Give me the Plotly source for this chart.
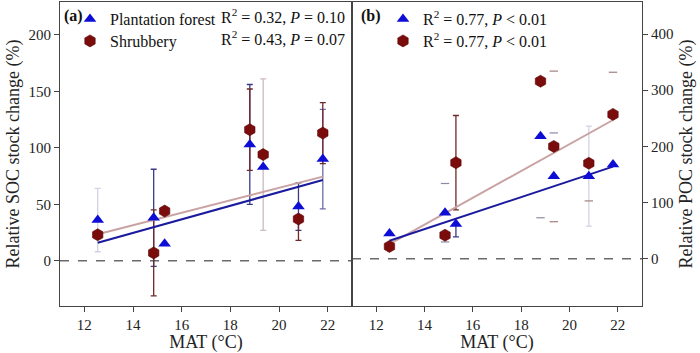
import numpy as np
import plotly.graph_objects as go

# ---------------- data ----------------
mat = [12.55, 14.85, 15.3, 18.8, 19.35, 20.8, 21.8]

# (a) SOC stock change (%)
soc_plant = [36, 38, 15, 103, 83, 48, 90]
soc_plant_up = [28, 43, 0, 53, 0, 21, 44]
soc_plant_dn = [28, 43, 0, 53, 0, 21, 44]
soc_shrub = [23, 7, 44, 116, 94, 37, 113]
soc_shrub_up = [0, 38, 0, 36, 67, 0, 27]
soc_shrub_dn = [0, 38, 0, 36, 67, 19, 27]

# (b) POC stock change (%)
poc_plant = [45, 82, 62, 218, 147, 147, 168]
poc_plant_up = [0, 52, 0, 0, 77, 89, 0]
poc_plant_dn = [0, 52, 23, 145, 0, 89, 0]
poc_shrub = [22, 42, 171, 316, 200, 170, 257]
poc_shrub_up = [0, 0, 84, 0, 134, 0, 75]
poc_shrub_dn = [0, 0, 84, 0, 134, 67, 0]

# fitted regression lines (end points)
fit_x = [12.55, 21.8]
soc_plant_fit = [16, 71.5]
soc_shrub_fit = [23.5, 74.5]
poc_plant_fit = [32, 164]
poc_shrub_fit = [26, 247]

x_ticks = [12, 14, 16, 18, 20, 22]
soc_ticks = [0, 50, 100, 150, 200]
poc_ticks = [0, 100, 200, 300, 400]

# error-bar style class per point: 'd' dark, 'm' medium, 'l' light, 'c' caps only, '-' none
soc_plant_sty = ['l', 'd', '-', 'd', '-', 'd', 'm']
soc_shrub_sty = ['-', 'd', '-', 'd', 'l', 'd', 'd']
poc_plant_sty = ['-', 'c', 'd', 'c', 'c', 'l', '-']
poc_shrub_sty = ['-', '-', 'd', '-', 'c', 'c', 'c']

BLUE = '#0d0dd6'
RED = '#7a0c0c'
FONT = 'Liberation Serif'
TXT = '#111111'

err_colors = {
    'blue': {'d': '#3b3b85', 'm': '#6e6ea8', 'l': '#d2d2e6', 'c': 'rgba(0,0,0,0)'},
    'red': {'d': '#6e2a2a', 'm': '#8a5050', 'l': '#cdbcbc', 'c': 'rgba(0,0,0,0)'},
}
cap_colors = {'blue': '#8a8aa8', 'red': '#a08080'}

fig = go.Figure()


def add_errors(x, y, up, dn, sty, key, xa, ya):
    for cls in ['l', 'c', 'm', 'd']:
        xs, ys, us, ds = [], [], [], []
        for xi, yi, ui, di, si in zip(x, y, up, dn, sty):
            if si == cls:
                xs.append(xi); ys.append(yi); us.append(ui); ds.append(di)
        if not xs:
            continue
        if cls == 'c':
            cx, cy = [], []
            for xi, yi, ui, di in zip(xs, ys, us, ds):
                if ui:
                    cx.append(xi); cy.append(yi + ui)
                if di:
                    cx.append(xi); cy.append(yi - di)
            fig.add_trace(go.Scatter(
                x=cx, y=cy, mode='markers',
                marker=dict(symbol='line-ew', size=6,
                            line=dict(color=cap_colors[key], width=1.2)),
                showlegend=False, hoverinfo='skip', xaxis=xa, yaxis=ya))
            continue
        fig.add_trace(go.Scatter(
            x=xs, y=ys, mode='markers', marker=dict(size=1, opacity=0),
            error_y=dict(type='data', symmetric=False, array=us, arrayminus=ds,
                         visible=True, color=err_colors[key][cls],
                         thickness=1.3, width=3),
            showlegend=False, hoverinfo='skip', xaxis=xa, yaxis=ya))


# error bars
add_errors(mat, soc_plant, soc_plant_up, soc_plant_dn, soc_plant_sty, 'blue', 'x', 'y')
add_errors(mat, soc_shrub, soc_shrub_up, soc_shrub_dn, soc_shrub_sty, 'red', 'x', 'y')
add_errors(mat, poc_plant, poc_plant_up, poc_plant_dn, poc_plant_sty, 'blue', 'x2', 'y2')
add_errors(mat, poc_shrub, poc_shrub_up, poc_shrub_dn, poc_shrub_sty, 'red', 'x2', 'y2')

# regression lines
for fy, col, xa, ya in [(soc_shrub_fit, '#c9a3a3', 'x', 'y'),
                        (soc_plant_fit, '#1a1a9e', 'x', 'y'),
                        (poc_shrub_fit, '#c9a3a3', 'x2', 'y2'),
                        (poc_plant_fit, '#1a1a9e', 'x2', 'y2')]:
    fig.add_trace(go.Scatter(x=fit_x, y=fy, mode='lines',
                             line=dict(color=col, width=2),
                             showlegend=False, hoverinfo='skip',
                             xaxis=xa, yaxis=ya))

tri = dict(symbol='triangle-up', size=11, color=BLUE, line=dict(width=0))
hexm = dict(symbol='hexagon', size=12, color=RED, line=dict(color='#5a0505', width=0.6))

fig.add_trace(go.Scatter(x=mat, y=soc_shrub, mode='markers', marker=hexm,
                         name='Shrubbery', legend='legend3'))
fig.add_trace(go.Scatter(x=mat, y=soc_plant, mode='markers', marker=tri,
                         name='Plantation forest', legend='legend'))
fig.add_trace(go.Scatter(x=mat, y=poc_shrub, mode='markers', marker=hexm,
                         name='R<sup>2</sup> = 0.77, <i>P</i> < 0.01',
                         xaxis='x2', yaxis='y2', legend='legend4'))
fig.add_trace(go.Scatter(x=mat, y=poc_plant, mode='markers', marker=tri,
                         name='R<sup>2</sup> = 0.77, <i>P</i> < 0.01',
                         xaxis='x2', yaxis='y2', legend='legend2'))

# zero lines
for xr, yr in [('x domain', 'y'), ('x2 domain', 'y2')]:
    fig.add_shape(type='line', xref=xr, yref=yr, x0=0, x1=1, y0=0, y1=0,
                  line=dict(color='#6a6a6a', width=1.5, dash='dash'), layer='below')

axis_common = dict(showline=True, linecolor='#444444', linewidth=1, mirror=True,
                   ticks='outside', ticklen=5, tickcolor='#444444',
                   showgrid=False, zeroline=False,
                   tickfont=dict(family=FONT, size=15, color='#222222'))
split = 292 / 582
PH = 304.0


def leg(xpx, row_top):
    return dict(x=xpx / 582, y=1 - row_top / PH, xanchor='left', yanchor='top',
                bgcolor='rgba(0,0,0,0)', font=dict(family=FONT, size=16, color=TXT))


fig.update_layout(
    width=700, height=353,
    margin=dict(l=60, r=58, t=2, b=47),
    paper_bgcolor='white', plot_bgcolor='white',
    font=dict(family=FONT, color='#222222'),
    xaxis=dict(domain=[0, split], range=[11, 23], tickvals=x_ticks,
               title=dict(text='MAT (°C)', font=dict(family=FONT, size=18), standoff=2),
               **axis_common),
    yaxis=dict(range=[-40, 229], tickvals=soc_ticks,
               title=dict(text='Relative SOC stock change (%)',
                          font=dict(family=FONT, size=18), standoff=4),
               **axis_common),
    xaxis2=dict(domain=[split, 1], range=[11, 23], tickvals=x_ticks, anchor='y2',
                title=dict(text='MAT (°C)', font=dict(family=FONT, size=18), standoff=2),
                **axis_common),
    yaxis2=dict(range=[-84, 457], tickvals=poc_ticks, anchor='x2', side='right',
                title=dict(text='Relative POC stock change (%)',
                           font=dict(family=FONT, size=18), standoff=6),
                **axis_common),
    legend=leg(10, 0),
    legend3=leg(10, 22),
    legend2=leg(323, 0),
    legend4=leg(323, 22),
    showlegend=True,
)

fig.add_annotation(text='<b>(a)</b>', xref='paper', yref='paper', x=2 / 582, y=1 - 14 / PH,
                   xanchor='left', yanchor='middle', showarrow=False,
                   font=dict(family=FONT, size=16, color=TXT))
fig.add_annotation(text='<b>(b)</b>', xref='paper', yref='paper', x=299 / 582, y=1 - 14 / PH,
                   xanchor='left', yanchor='middle', showarrow=False,
                   font=dict(family=FONT, size=16, color=TXT))
fig.add_annotation(text='R<sup>2</sup> = 0.32, <i>P</i> = 0.10', xref='paper', yref='paper',
                   x=287 / 582, y=1 - 14 / PH, xanchor='right', yanchor='middle',
                   showarrow=False, font=dict(family=FONT, size=16, color=TXT))
fig.add_annotation(text='R<sup>2</sup> = 0.43, <i>P</i> = 0.07', xref='paper', yref='paper',
                   x=287 / 582, y=1 - 36 / PH, xanchor='right', yanchor='middle',
                   showarrow=False, font=dict(family=FONT, size=16, color=TXT))

fig.write_html('out.html')
